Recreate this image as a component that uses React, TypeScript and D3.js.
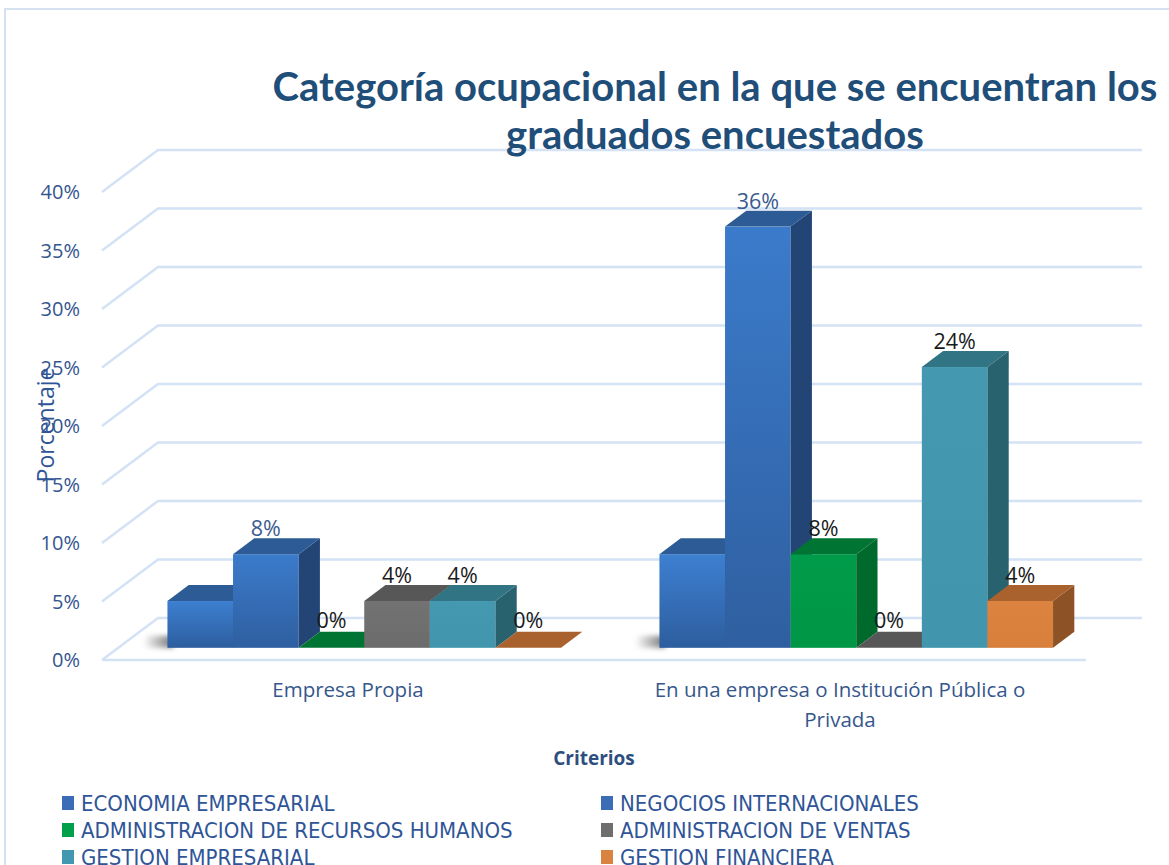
import * as React from 'react'
import { scaleBand, scaleLinear, range } from 'd3'

const categories = ['Empresa Propia', 'En una empresa o Institución Pública o Privada']
const categoryLines = [['Empresa Propia'], ['En una empresa o Institución Pública o', 'Privada']]

const seriesNames = [
  'ECONOMIA EMPRESARIAL',
  'NEGOCIOS INTERNACIONALES',
  'ADMINISTRACION DE RECURSOS HUMANOS',
  'ADMINISTRACION DE VENTAS',
  'GESTION EMPRESARIAL',
  'GESTION FINANCIERA',
]
// one value per category, in the order of `categories`
const economia = [0.04, 0.08]
const negocios = [0.08, 0.36]
const recursosHumanos = [0, 0.08]
const ventas = [0.04, 0]
const gestionEmpresarial = [0.04, 0.24]
const gestionFinanciera = [0, 0.04]
const seriesValues = [economia, negocios, recursosHumanos, ventas, gestionEmpresarial, gestionFinanciera]
// Excel hid the labels of the first series
const showLabel = [false, true, true, true, true, true]

const yTicks = [0, 0.05, 0.1, 0.15, 0.2, 0.25, 0.3, 0.35, 0.4]

const palette = [
  { front: ['#3d7fd1', '#2d5e9e'], top: '#2c5b95', side: '#24467a', legend: '#3a6db6', label: '#3b5a8f' },
  { front: ['#3b7bcb', '#2f5fa0'], top: '#2c5b95', side: '#234576', legend: '#3a6db6', label: '#3b5a8f' },
  { front: ['#009b4a', '#009746'], top: '#007533', side: '#006a2d', legend: '#00a04a', label: '#1a1a1a' },
  { front: ['#727272', '#6c6c6c'], top: '#575757', side: '#494949', legend: '#6e6e6e', label: '#1a1a1a' },
  { front: ['#4499b1', '#4196ae'], top: '#317484', side: '#27626e', legend: '#4298b0', label: '#1a1a1a' },
  { front: ['#db833f', '#d87f3c'], top: '#a9622e', side: '#8d5226', legend: '#da823f', label: '#1a1a1a' },
]

const W = 1169
const H = 865
const DX = 56
const DY = 42
const Z_FRONT = 0.29
const Z_BACK = 0.67
const FONT = '"Open Sans", "Noto Sans", sans-serif'

function App() {
  const y = scaleLinear().domain([0, 0.4]).range([660, 192])
  const x = scaleBand<number>().domain(range(categories.length)).range([102, 1086]).paddingInner(0.2).paddingOuter(0.1)
  const xs = scaleBand<number>().domain(range(seriesNames.length)).range([0, x.bandwidth()])
  const step = x.step()
  const floorLeft = 102
  const floorRight = 102 + step * categories.length

  const proj = (px: number, v: number, z: number): [number, number] => [px + z * DX, y(v) - z * DY]
  const pts = (list: [number, number][]) => list.map((p) => p.join(',')).join(' ')
  const pct = (v: number) => `${Math.round(v * 100)}%`

  const bars: React.ReactNode[] = []
  const labels: React.ReactNode[] = []
  categories.forEach((c, ci) => {
    const gx = x(ci) as number
    // soft shadow on the floor to the left of each group
    const [sx, sy] = proj(gx, 0, Z_FRONT)
    bars.push(
      <rect key={`sh${ci}`} x={sx - 24} y={sy - 12} width={30} height={12} fill="url(#shadow)" filter="url(#blur)" />
    )
    seriesNames.forEach((s, si) => {
      const v = seriesValues[si][ci]
      const x0 = gx + (xs(si) as number)
      const x1 = x0 + xs.bandwidth()
      const col = palette[si]
      const fTL = proj(x0, v, Z_FRONT)
      const fTR = proj(x1, v, Z_FRONT)
      const fBR = proj(x1, 0, Z_FRONT)
      const bTL = proj(x0, v, Z_BACK)
      const bTR = proj(x1, v, Z_BACK)
      const bBR = proj(x1, 0, Z_BACK)
      bars.push(
        <g key={`b${ci}-${si}`}>
          {v > 0 && (
            <rect x={fTL[0]} y={fTL[1]} width={x1 - x0} height={fBR[1] - fTL[1]} fill={`url(#grad${si})`} />
          )}
          {v > 0 && <polygon points={pts([fTR, fBR, bBR, bTR])} fill={col.side} />}
          <polygon points={pts([fTL, fTR, bTR, bTL])} fill={col.top} />
        </g>
      )
      if (showLabel[si]) {
        labels.push(
          <text
            key={`l${ci}-${si}`}
            x={(fTL[0] + fTR[0]) / 2}
            y={fTL[1] - (v > 0 ? 18 : 20)}
            textAnchor="middle"
            fontSize={21.5}
            fill={col.label}
          >
            {pct(v)}
          </text>
        )
      }
    })
  })

  return (
    <svg width={W} height={H} style={{ position: 'absolute', left: 0, top: 0 }} fontFamily={FONT}>
      <defs>
        {palette.map((p, i) => (
          <linearGradient key={i} id={`grad${i}`} x1="0" y1="0" x2="0" y2="1">
            <stop offset="0" stopColor={p.front[0]} />
            <stop offset="1" stopColor={p.front[1]} />
          </linearGradient>
        ))}
        <linearGradient id="shadow" x1="0" y1="0" x2="1" y2="0">
          <stop offset="0" stopColor="#000" stopOpacity="0" />
          <stop offset="1" stopColor="#000" stopOpacity="0.55" />
        </linearGradient>
        <filter id="blur" x="-50%" y="-50%" width="200%" height="200%">
          <feGaussianBlur stdDeviation="2.5" />
        </filter>
      </defs>
      <rect x={0} y={0} width={W} height={H} fill="#fff" />
      <rect x={5} y={9} width={W + 10} height={H + 10} fill="none" stroke="#d5e1f1" strokeWidth={2} />

      {/* walls */}
      <g stroke="#d4e2f6" strokeWidth={2.5} fill="none">
        {yTicks.map((t) => {
          const a = proj(floorLeft, t, 0)
          const b = proj(floorLeft, t, 1)
          const c = proj(floorRight, t, 1)
          return <polyline key={t} points={pts([a, b, c])} />
        })}
        <line x1={floorLeft} y1={y(0)} x2={floorRight} y2={y(0)} />
      </g>

      {yTicks.map((t) => (
        <text key={t} x={80} y={y(t) + 7} textAnchor="end" fontSize={20} fill="#34568f">
          {pct(t)}
        </text>
      ))}

      {bars}
      {labels}

      {categoryLines.map((lines, ci) => (
        <text key={ci} textAnchor="middle" fontSize={20.5} fill="#36578c">
          {lines.map((l, li) => (
            <tspan key={li} x={(x(ci) as number) + x.bandwidth() / 2} y={697 + li * 30}>
              {l}
            </tspan>
          ))}
        </text>
      ))}

      <text x={594} y={765} textAnchor="middle" fontSize={19} fontWeight="bold" fill="#2d4e7e">
        Criterios
      </text>
      <text transform="translate(54,425) rotate(-90)" textAnchor="middle" fontSize={23} fill="#2f5597">
        Porcentaje
      </text>

      <g fontFamily='Lato, "Open Sans", sans-serif' fontWeight="bold" fontSize={40} fill="#1f4e79" textAnchor="middle">
        <text x={715} y={101}>
          Categoría ocupacional en la que se encuentran los
        </text>
        <text x={715} y={149}>
          graduados encuestados
        </text>
      </g>

      <g fontFamily='"Liberation Sans Narrow", "DejaVu Sans Condensed", sans-serif' fontSize={22} fill="#2f5597">
        {seriesNames.map((s, i) => {
          const col = i % 2
          const row = Math.floor(i / 2)
          const lx = col === 0 ? 62 : 601
          const ly = 803 + row * 27
          return (
            <g key={s}>
              <rect x={lx} y={ly - 7} width={12} height={14} fill={palette[i].legend} />
              <text x={lx + 19} y={ly + 8}>
                {s}
              </text>
            </g>
          )
        })}
      </g>
    </svg>
  )
}

export default App
